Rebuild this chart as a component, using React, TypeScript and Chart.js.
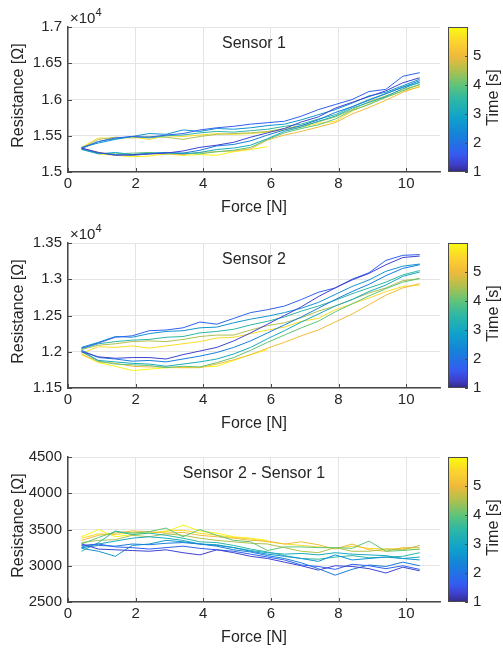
import React, { useEffect, useRef } from "react";
import { Chart, registerables } from "chart.js";
Chart.register(...registerables);

// ---------------- data ----------------
const FORCE = [0.4, 0.9, 1.4, 1.9, 2.4, 2.9, 3.4, 3.9, 4.4, 4.9, 5.4, 5.9, 6.4, 6.9, 7.4, 7.9, 8.4, 8.9, 9.4, 9.9, 10.4];

// time [s] of each branch (loading / unloading), in drawing order
const BRANCH_TIME = [1.3, 1.7, 2.2, 2.6, 3.1, 3.5, 4.0, 4.5, 5.0, 5.6, 5.9];

const TIME_MIN = 1;
const TIME_MAX = 5.98;
const TIME_TICKS = [1, 2, 3, 4, 5];
const X_TICK_STEP = 2;

// Sensor 1 [Ω]
const S1_L1 = [15330, 15270, 15230, 15240, 15250, 15260, 15290, 15340, 15370, 15410, 15480, 15540, 15600, 15690, 15760, 15880, 15960, 16040, 16120, 16230, 16300];
const S1_U1 = [15330, 15420, 15470, 15490, 15480, 15510, 15530, 15580, 15610, 15630, 15660, 15680, 15700, 15770, 15860, 15930, 16000, 16110, 16140, 16320, 16370];
const S1_L2 = [15320, 15260, 15240, 15230, 15250, 15270, 15260, 15300, 15360, 15380, 15430, 15510, 15580, 15640, 15720, 15820, 15900, 15990, 16080, 16170, 16260];
const S1_U2 = [15340, 15400, 15450, 15490, 15530, 15520, 15580, 15560, 15600, 15590, 15610, 15640, 15660, 15720, 15790, 15860, 15950, 16050, 16100, 16190, 16280];
const S1_L3 = [15310, 15250, 15270, 15240, 15260, 15270, 15250, 15270, 15310, 15330, 15370, 15460, 15560, 15620, 15700, 15770, 15880, 15960, 16040, 16150, 16240];
const S1_U3 = [15320, 15420, 15460, 15490, 15470, 15500, 15510, 15540, 15560, 15550, 15570, 15590, 15630, 15660, 15730, 15790, 15900, 16000, 16080, 16170, 16230];
const S1_L4 = [15320, 15260, 15250, 15260, 15270, 15250, 15260, 15250, 15280, 15300, 15340, 15450, 15540, 15600, 15650, 15730, 15850, 15930, 16030, 16120, 16210];
const S1_U4 = [15330, 15450, 15480, 15470, 15490, 15480, 15450, 15490, 15520, 15530, 15540, 15560, 15600, 15640, 15690, 15760, 15860, 15970, 16050, 16140, 16200];
const S1_L5 = [15330, 15270, 15240, 15230, 15250, 15250, 15240, 15270, 15280, 15290, 15320, 15440, 15510, 15560, 15620, 15680, 15800, 15890, 15990, 16100, 16180];
const S1_U5 = [15340, 15470, 15460, 15480, 15450, 15500, 15490, 15510, 15530, 15520, 15530, 15550, 15580, 15620, 15670, 15700, 15840, 15940, 16030, 16120, 16170];
const S1_L6 = [15330, 15250, 15230, 15210, 15220, 15250, 15230, 15240, 15230, 15280, 15310, 15350];

// Sensor 2 [Ω]
const S2_L1 = [12000, 11930, 11910, 11920, 11920, 11900, 11960, 12010, 12060, 12150, 12260, 12380, 12500, 12620, 12760, 12880, 12990, 13080, 13200, 13300, 13320];
const S2_U1 = [12050, 12120, 12200, 12220, 12290, 12300, 12330, 12410, 12380, 12460, 12540, 12580, 12630, 12720, 12820, 12880, 13000, 13090, 13260, 13330, 13340];
const S2_L2 = [12020, 11920, 11900, 11870, 11880, 11860, 11900, 11940, 11990, 12060, 12150, 12260, 12370, 12480, 12600, 12720, 12830, 12930, 13050, 13150, 13200];
const S2_U2 = [12060, 12130, 12210, 12200, 12250, 12280, 12290, 12330, 12340, 12400, 12450, 12490, 12540, 12600, 12680, 12790, 12900, 12990, 13110, 13180, 13210];
const S2_L3 = [12010, 11880, 11860, 11840, 11830, 11800, 11830, 11860, 11900, 11970, 12060, 12180, 12290, 12410, 12520, 12630, 12720, 12830, 12920, 13040, 13100];
const S2_U3 = [12040, 12110, 12140, 12160, 12170, 12200, 12210, 12260, 12280, 12310, 12370, 12420, 12480, 12560, 12630, 12710, 12800, 12880, 12960, 13060, 13120];
const S2_L4 = [12000, 11870, 11830, 11820, 11810, 11780, 11800, 11790, 11850, 11920, 12020, 12130, 12230, 12330, 12420, 12550, 12660, 12770, 12870, 12960, 13010];
const S2_U4 = [12030, 12090, 12110, 12140, 12150, 12140, 12170, 12210, 12230, 12230, 12300, 12360, 12400, 12470, 12560, 12630, 12720, 12810, 12880, 12980, 13010];
const S2_L5 = [11970, 11860, 11840, 11800, 11790, 11790, 11780, 11780, 11830, 11890, 11960, 12050, 12130, 12220, 12300, 12410, 12520, 12650, 12780, 12880, 12940];
const S2_U5 = [11980, 12070, 12060, 12080, 12050, 12080, 12110, 12140, 12190, 12200, 12250, 12300, 12340, 12420, 12460, 12580, 12660, 12740, 12830, 12900, 12920];
const S2_L6 = [11960, 11850, 11800, 11740, 11760, 11780, 11780, 11790, 11800, 11880, 11960, 12030];

// Sensor 2 - Sensor 1 [Ω]
const S3_L1 = [3300, 3230, 3220, 3210, 3200, 3220, 3180, 3150, 3220, 3180, 3130, 3100, 3050, 3000, 2940, 3000, 2990, 2960, 2900, 2980, 2930];
const S3_U1 = [3280, 3300, 3260, 3250, 3230, 3250, 3270, 3240, 3220, 3200, 3160, 3120, 3080, 3010, 2990, 2950, 3020, 3000, 2960, 3000, 2950];
const S3_L2 = [3250, 3280, 3270, 3300, 3290, 3310, 3320, 3300, 3270, 3220, 3190, 3140, 3100, 3040, 2960, 2870, 2950, 3010, 2990, 3050, 3000];
const S3_U2 = [3240, 3200, 3130, 3280, 3300, 3350, 3330, 3300, 3280, 3250, 3200, 3160, 3130, 3100, 3060, 3150, 3080, 3100, 3120, 3100, 3080];
const S3_L3 = [3260, 3300, 3340, 3380, 3400, 3380, 3350, 3300, 3290, 3250, 3210, 3180, 3160, 3170, 3150, 3180, 3160, 3150, 3140, 3100, 3120];
const S3_U3 = [3200, 3320, 3480, 3430, 3450, 3420, 3380, 3330, 3320, 3280, 3230, 3190, 3140, 3100, 3090, 3120, 3140, 3110, 3120, 3130, 3180];
const S3_L4 = [3300, 3390, 3470, 3450, 3470, 3520, 3400, 3500, 3420, 3350, 3330, 3210, 3260, 3260, 3250, 3250, 3240, 3340, 3200, 3210, 3230];
const S3_U4 = [3320, 3350, 3360, 3420, 3400, 3440, 3420, 3380, 3350, 3330, 3310, 3300, 3250, 3200, 3180, 3250, 3200, 3200, 3230, 3220, 3280];
const S3_L5 = [3350, 3420, 3450, 3480, 3470, 3450, 3460, 3420, 3400, 3380, 3350, 3340, 3300, 3330, 3290, 3230, 3300, 3220, 3200, 3250, 3250];
const S3_U5 = [3380, 3440, 3430, 3460, 3450, 3480, 3490, 3450, 3420, 3390, 3370, 3330, 3300, 3280, 3260, 3240, 3270, 3240, 3230, 3240, 3220];
const S3_L6 = [3400, 3500, 3400, 3430, 3450, 3470, 3560, 3480, 3450, 3400, 3380, 3350];

const PANELS = [
  { title: "Sensor 1", branches: [S1_L1, S1_U1, S1_L2, S1_U2, S1_L3, S1_U3, S1_L4, S1_U4, S1_L5, S1_U5, S1_L6], yMin: 15000, yMax: 17000, yStep: 500, exp: true },
  { title: "Sensor 2", branches: [S2_L1, S2_U1, S2_L2, S2_U2, S2_L3, S2_U3, S2_L4, S2_U4, S2_L5, S2_U5, S2_L6], yMin: 11500, yMax: 13500, yStep: 500, exp: true },
  { title: "Sensor 2 - Sensor 1", branches: [S3_L1, S3_U1, S3_L2, S3_U2, S3_L3, S3_U3, S3_L4, S3_U4, S3_L5, S3_U5, S3_L6], yMin: 2500, yMax: 4500, yStep: 500, exp: false },
];

// ---------------- styling ----------------
const FONT = "'Liberation Sans', Arial, Helvetica, sans-serif";
const TEXT = "#262626";
const AXIS = "#4a4a4a";
const GRID = "#e4e4e4";

// [position, r, g, b]
const PARULA: [number, number, number, number][] = [
  [0.0, 53, 42, 135],
  [0.06, 62, 66, 208],
  [0.125, 52, 92, 242],
  [0.25, 22, 128, 218],
  [0.375, 15, 163, 202],
  [0.5, 45, 183, 165],
  [0.6, 95, 196, 120],
  [0.7, 175, 192, 78],
  [0.8, 240, 186, 58],
  [0.9, 252, 212, 45],
  [1.0, 249, 251, 14],
];
function parula(t: number) {
  const x = Math.max(0, Math.min(1, t));
  let i = 0;
  while (i < PARULA.length - 2 && x > PARULA[i + 1][0]) i++;
  const a = PARULA[i], b = PARULA[i + 1];
  const f = (x - a[0]) / (b[0] - a[0]);
  const r = Math.round(a[1] + (b[1] - a[1]) * f);
  const g = Math.round(a[2] + (b[2] - a[2]) * f);
  const bl = Math.round(a[3] + (b[3] - a[3]) * f);
  return `rgb(${r},${g},${bl})`;
}
const timeColor = (t: number) => parula((t - TIME_MIN) / (TIME_MAX - TIME_MIN));

const W = 503;
const H = 217;
const PANEL_TOPS = [0, 216, 430];

const decorPlugin = (title: string, exp: boolean) => ({
  id: "decor",
  afterDraw(chart: any) {
    const { ctx, chartArea: a, scales } = chart;
    ctx.save();
    // inward ticks
    ctx.strokeStyle = AXIS;
    ctx.lineWidth = 1;
    scales.y.ticks.forEach((t: any) => {
      const y = Math.round(scales.y.getPixelForValue(t.value)) + 0.5;
      ctx.beginPath(); ctx.moveTo(a.left, y); ctx.lineTo(a.left + 4, y); ctx.stroke();
    });
    scales.x.ticks.forEach((t: any) => {
      const x = Math.round(scales.x.getPixelForValue(t.value)) + 0.5;
      ctx.beginPath(); ctx.moveTo(x, a.bottom); ctx.lineTo(x, a.bottom - 4); ctx.stroke();
    });
    ctx.fillStyle = TEXT;
    // in-plot title
    ctx.font = `16px ${FONT}`;
    ctx.textAlign = "center";
    ctx.textBaseline = "middle";
    ctx.fillText(title, (a.left + a.right) / 2, a.top + 17);
    // x label
    ctx.fillText("Force [N]", (a.left + a.right) / 2, 208);
    // y label
    ctx.save();
    ctx.translate(19, (a.top + a.bottom) / 2 - 4);
    ctx.rotate(-Math.PI / 2);
    ctx.fillText("Resistance [\u03A9]", 0, 0);
    ctx.restore();
    // exponent
    if (exp) {
      ctx.textAlign = "left";
      ctx.textBaseline = "alphabetic";
      ctx.font = `15px ${FONT}`;
      ctx.fillText("\u00D710", a.left + 2, a.top - 4);
      const w = ctx.measureText("\u00D710").width;
      ctx.font = `11px ${FONT}`;
      ctx.fillText("4", a.left + 2 + w, a.top - 11);
    }
    // colorbar
    const cl = 448, cr = 468, ct = a.top, cb = a.bottom;
    for (let y = ct; y < cb; y++) {
      const t = (cb - (y + 0.5)) / (cb - ct);
      ctx.fillStyle = parula(t);
      ctx.fillRect(cl, y, cr - cl, 1);
    }
    ctx.strokeStyle = AXIS;
    ctx.lineWidth = 1;
    ctx.strokeRect(cl + 0.5, ct + 0.5, cr - cl - 1, cb - ct - 1);
    ctx.fillStyle = TEXT;
    ctx.font = `15px ${FONT}`;
    ctx.textAlign = "left";
    ctx.textBaseline = "middle";
    TIME_TICKS.forEach((v) => {
      const y = cb - ((v - TIME_MIN) / (TIME_MAX - TIME_MIN)) * (cb - ct);
      ctx.beginPath(); ctx.moveTo(cr - 3, Math.round(y) + 0.5); ctx.lineTo(cr, Math.round(y) + 0.5); ctx.stroke();
      ctx.fillText(String(v), cr + 5, y);
    });
    ctx.font = `16px ${FONT}`;
    ctx.textAlign = "center";
    ctx.save();
    ctx.translate(494, (ct + cb) / 2 - 2);
    ctx.rotate(-Math.PI / 2);
    ctx.fillText("Time [s]", 0, 0);
    ctx.restore();
    ctx.restore();
  },
});

function Panel({ idx }: { idx: number }) {
  const ref = useRef<HTMLCanvasElement>(null);
  useEffect(() => {
    const p = PANELS[idx];
    const datasets = p.branches.map((arr, i) => ({
      data: arr.map((v, j) => ({ x: FORCE[j], y: v })),
      borderColor: timeColor(BRANCH_TIME[i]),
      borderWidth: 1,
      pointRadius: 0,
      tension: 0,
      fill: false,
    }));
    const fmt = (v: number) => (p.exp ? String(parseFloat((v / 1e4).toFixed(3))) : String(v));
    const chart = new Chart(ref.current!, {
      type: "line",
      data: { datasets },
      options: {
        animation: false,
        responsive: false,
        devicePixelRatio: 1,
        layout: { padding: { left: 0, right: 63, top: 27, bottom: 0 } },
        plugins: { legend: { display: false }, tooltip: { enabled: false } },
        scales: {
          x: {
            type: "linear",
            min: 0,
            max: 11,
            ticks: { stepSize: X_TICK_STEP, includeBounds: false, padding: 3, autoSkip: false, maxRotation: 0, color: TEXT, font: { family: FONT, size: 15 } },
            grid: { color: GRID, drawTicks: false },
            border: { color: AXIS, width: 1.5 },
            afterFit: (s: any) => { s.height = 45; },
          },
          y: {
            type: "linear",
            min: p.yMin,
            max: p.yMax,
            ticks: { stepSize: p.yStep, includeBounds: false, padding: 6, autoSkip: false, color: TEXT, font: { family: FONT, size: 15 }, callback: (v: any) => fmt(Number(v)) },
            grid: { color: GRID, drawTicks: false },
            border: { color: AXIS, width: 1.5 },
            afterFit: (s: any) => { s.width = 68; },
          },
        },
      } as any,
      plugins: [decorPlugin(p.title, p.exp)],
    });
    return () => chart.destroy();
  }, [idx]);
  return (
    <canvas
      ref={ref}
      width={W}
      height={H}
      style={{ position: "absolute", left: 0, top: PANEL_TOPS[idx], width: W, height: H }}
    />
  );
}

export default function App() {
  return (
    <div style={{ position: "absolute", left: 0, top: 0, width: W, height: 651, background: "#fff" }}>
      {PANELS.map((_, i) => (
        <Panel key={i} idx={i} />
      ))}
    </div>
  );
}
